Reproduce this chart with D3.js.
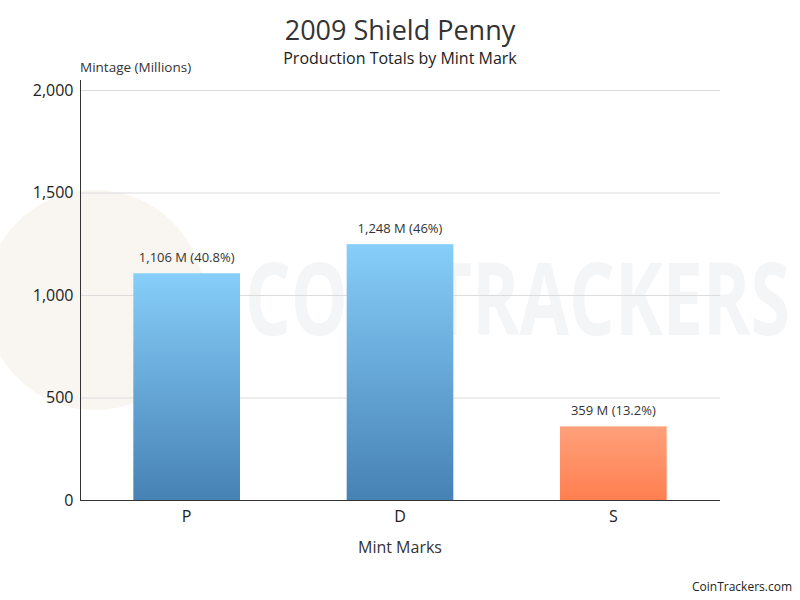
<!DOCTYPE html>
<html>
<meta charset="utf-8">
<script src="https://d3js.org/d3.v7.min.js"></script>
<head>
<style>
body { margin: 0; background: #fff; }
text { font-family: "Open Sans", "Noto Sans", sans-serif; }
</style>
</head>
<body>
<div id="chart"></div>
<script>

// data
var mints = ["P", "D", "S"];
var mintage = [1106, 1248, 359];      // millions
var share = [40.8, 46, 13.2];          // percent of total
var yTicks = [0, 500, 1000, 1500, 2000];

var width = 800,
    height = 600;
var plotLeft = 80, plotRight = 720, plotTop = 90, plotBottom = 500;

var svg = d3.select("#chart")
  .append("svg")
    .attr("width", width)
    .attr("height", height);

var defs = svg.append("defs");
var blue = defs.append("linearGradient")
  .attr("id", "blueGrad").attr("x1", 0).attr("y1", 0).attr("x2", 0).attr("y2", 1);
blue.append("stop").attr("offset", "0%").attr("stop-color", "#87cefa");
blue.append("stop").attr("offset", "100%").attr("stop-color", "#4682b4");
var orange = defs.append("linearGradient")
  .attr("id", "orangeGrad").attr("x1", 0).attr("y1", 0).attr("x2", 0).attr("y2", 1);
orange.append("stop").attr("offset", "0%").attr("stop-color", "#ffa07a");
orange.append("stop").attr("offset", "100%").attr("stop-color", "#ff7f50");

// faint watermark (logo circle + wordmark)
svg.append("circle")
  .attr("cx", 95).attr("cy", 300).attr("r", 110)
  .attr("fill", "#f6f2ed").attr("opacity", 0.7);
svg.append("text")
  .attr("x", 245).attr("y", 335)
  .attr("textLength", 545)
  .attr("lengthAdjust", "spacingAndGlyphs")
  .style("font-size", "100px")
  .style("font-weight", "bold")
  .style("fill", "#f4f5f7")
  .text("COINTRACKERS");

var x = d3.scaleBand()
  .domain(mints)
  .range([plotLeft, plotRight])
  .paddingInner(0.5)
  .paddingOuter(0.25);

var y = d3.scaleLinear()
  .domain([0, 2000])
  .range([plotBottom, plotTop]);

// gridlines
svg.selectAll("grid")
  .data(yTicks.slice(1))
  .enter()
  .append("line")
    .attr("x1", plotLeft).attr("x2", plotRight)
    .attr("y1", function(d){ return y(d) + 0.5 })
    .attr("y2", function(d){ return y(d) + 0.5 })
    .attr("stroke", "#dcdcdc")
    .attr("stroke-width", 1);

// bars
svg.selectAll("bars")
  .data(mints)
  .enter()
  .append("rect")
    .attr("x", function(d){ return x(d) })
    .attr("y", function(d, i){ return y(mintage[i]) })
    .attr("width", x.bandwidth())
    .attr("height", function(d, i){ return plotBottom - y(mintage[i]) })
    .attr("fill", function(d){ return d == "S" ? "url(#orangeGrad)" : "url(#blueGrad)" });

// bar labels
svg.selectAll("barLabels")
  .data(mints)
  .enter()
  .append("text")
    .attr("x", function(d){ return x(d) + x.bandwidth() / 2 })
    .attr("y", function(d, i){ return y(mintage[i]) - 11 })
    .attr("text-anchor", "middle")
    .style("font-size", "13px")
    .style("fill", "#333")
    .text(function(d, i){ return d3.format(",")(mintage[i]) + " M (" + share[i] + "%)" });

// y axis
var yAxis = svg.append("g")
  .attr("transform", "translate(" + (plotLeft + 0.5) + ",0)")
  .call(d3.axisLeft(y).tickValues(yTicks).tickFormat(d3.format(",")).tickSize(0).tickPadding(7));
yAxis.select(".domain").attr("stroke", "#333").attr("d", "M0," + (plotTop - 10) + "V" + plotBottom);
yAxis.selectAll("text")
  .style("font-size", "16px")
  .style("fill", "#222")
  .style("font-family", "\"Open Sans\", sans-serif");

// x axis
var xAxis = svg.append("g")
  .attr("transform", "translate(0," + (plotBottom + 0.5) + ")")
  .call(d3.axisBottom(x).tickSize(0).tickPadding(10));
xAxis.select(".domain").attr("stroke", "#333").attr("d", "M" + plotLeft + ",0H" + plotRight);
xAxis.selectAll("text")
  .style("font-size", "16px")
  .style("fill", "#222")
  .style("font-family", "\"Open Sans\", sans-serif");

// titles
svg.append("text")
  .attr("x", 400).attr("y", 40)
  .attr("text-anchor", "middle")
  .style("font-size", "27px")
  .style("fill", "#333")
  .text("2009 Shield Penny");

svg.append("text")
  .attr("x", 400).attr("y", 64)
  .attr("text-anchor", "middle")
  .style("font-size", "16px")
  .style("fill", "#222")
  .text("Production Totals by Mint Mark");

svg.append("text")
  .attr("x", 80).attr("y", 72)
  .style("font-size", "13.5px")
  .style("fill", "#333")
  .text("Mintage (Millions)");

svg.append("text")
  .attr("x", 400).attr("y", 553)
  .attr("text-anchor", "middle")
  .style("font-size", "16px")
  .style("fill", "#333")
  .text("Mint Marks");

svg.append("text")
  .attr("x", 792).attr("y", 591)
  .attr("text-anchor", "end")
  .style("font-size", "12px")
  .style("fill", "#222")
  .text("CoinTrackers.com");

</script>
</body>
</html>
